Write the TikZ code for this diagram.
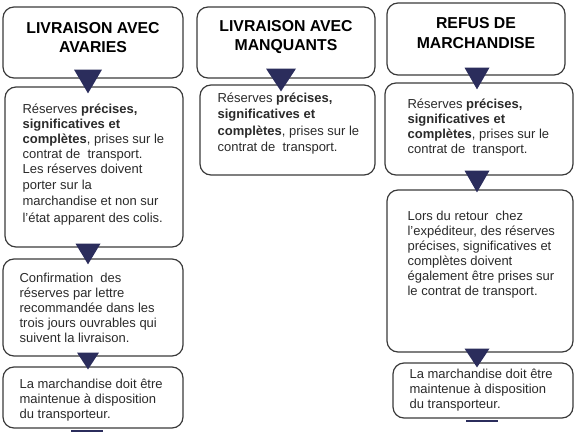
\documentclass[tikz,border=0pt]{standalone}
\usepackage{fontspec}
\setmainfont{Liberation Sans}
\usetikzlibrary{calc}
\definecolor{navy}{HTML}{2B2D5C}
\definecolor{edge}{HTML}{3A3A3A}
\definecolor{ink}{HTML}{2A2A2A}
\tikzset{
  box/.style={draw=edge, line width=1.2pt, rounded corners=11pt, inner sep=0pt},
  headtext/.style={inner sep=0pt, align=center, text=black, font={\fontsize{15.8}{19.5}\selectfont\bfseries}},
  body/.style={anchor=north west, inner sep=0pt, align=left, text=ink, font={\fontsize{13}{15}\selectfont}},
  tri/.style={fill=navy},
}
\begin{document}
\begin{tikzpicture}[x=1pt,y=-1pt]
\useasboundingbox (0,0) rectangle (583,433);
% column 1
\node[box, minimum width=180pt, minimum height=71pt] (h1) at (93,42.5) {};
\node[headtext] (h1t) at ($(h1.center)+(0,-5)$) {LIVRAISON AVEC\\AVARIES};
\node[box, minimum width=178pt, minimum height=160pt] (b1) at (94,167) {};
\node[box, minimum width=180pt, minimum height=97pt] (b2) at (93,307.5) {};
\node[box, minimum width=180pt, minimum height=61pt] (b3) at (93,397.5) {};
\node[body] (t1) at ($(b1.north west)+(18,17)$) {R\'eserves \textbf{pr\'ecises,}\\\textbf{significatives et}\\\textbf{compl\`etes}, prises sur le\\contrat de~ transport.\\Les r\'eserves doivent\\[1.3pt]porter sur la\\[1.3pt]marchandise et non sur\\[1.3pt]l'\'etat apparent des colis.};
\node[body] (t2) at ($(b2.north west)+(17,14.5)$) {Confirmation~ des\\r\'eserves par lettre\\recommand\'ee dans les\\trois jours ouvrables qui\\suivent la livraison.};
\node[body] (t3) at ($(b3.north west)+(17,12.5)$) {La marchandise doit \^etre\\maintenue \`a disposition\\du transporteur.};
% column 2
\node[box, minimum width=178pt, minimum height=71pt] (h2) at (286,42.5) {};
\node[headtext] (h2t) at ($(h2.center)+(0,-5.5)$) {LIVRAISON AVEC\\MANQUANTS};
\node[box, minimum width=175pt, minimum height=90pt] (b4) at (287.5,130) {};
\node[body, font={\fontsize{13}{16.5}\selectfont}] (t4) at ($(b4.north west)+(18,8)$) {R\'eserves \textbf{pr\'ecises,}\\\textbf{significatives et}\\\textbf{compl\`etes}, prises sur le\\contrat de~ transport.};
% column 3
\node[box, minimum width=178pt, minimum height=72pt] (h3) at (476,39) {};
\node[headtext] (h3t) at ($(h3.center)+(0,-6)$) {REFUS DE\\MARCHANDISE};
\node[box, minimum width=188pt, minimum height=92pt] (b5) at (479,129) {};
\node[box, minimum width=186pt, minimum height=162pt] (b6) at (480,271) {};
\node[box, minimum width=180pt, minimum height=55pt] (b7) at (483,390.5) {};
\node[body] (t5) at ($(b5.north west)+(23,16)$) {R\'eserves \textbf{pr\'ecises,}\\\textbf{significatives et}\\\textbf{compl\`etes}, prises sur le\\contrat de~ transport.};
\node[body] (t6) at ($(b6.north west)+(21,21)$) {Lors du retour~ chez\\l'exp\'editeur, des r\'eserves\\pr\'ecises, significatives et\\compl\`etes doivent\\\'egalement \^etre prises sur\\le contrat de transport.};
\node[body] (t7) at ($(b7.north west)+(17,6)$) {La marchandise doit \^etre\\maintenue \`a disposition\\du transporteur.};
% triangles column 1
\fill[tri] ($(h1.south)+(-19,-9)$) -- ++(28,0) -- ($(b1.north)+(-6,7)$) -- cycle;
\fill[tri] ($(b1.south)+(-18.5,-4)$) -- ++(25,0) -- ($(b2.north)+(-5,6)$) -- cycle;
\fill[tri] ($(b2.south)+(-16,-4)$) -- ++(22,0) -- ($(b3.north)+(-5,3)$) -- cycle;
\fill[tri] ($(b3.south)+(-22,1)$) rectangle ++(32,2.5);
% triangles column 2
\fill[tri] ($(h2.south)+(-20,-10)$) -- ++(30,0) -- ($(b4.north)+(-6.5,7)$) -- cycle;
% triangles column 3
\fill[tri] ($(h3.south)+(-11.5,-8)$) -- ++(25,0) -- ($(b5.north)+(-2,7)$) -- cycle;
\fill[tri] ($(b5.south)+(-14.5,-5)$) -- ++(25,0) -- ($(b6.north)+(-3,3)$) -- cycle;
\fill[tri] ($(b6.south)+(-15.5,-4)$) -- ++(25,0) -- ($(b7.north)+(-6,5)$) -- cycle;
\fill[tri] ($(b7.south)+(-17,1)$) rectangle ++(32,2.5);
\end{tikzpicture}
\end{document}
